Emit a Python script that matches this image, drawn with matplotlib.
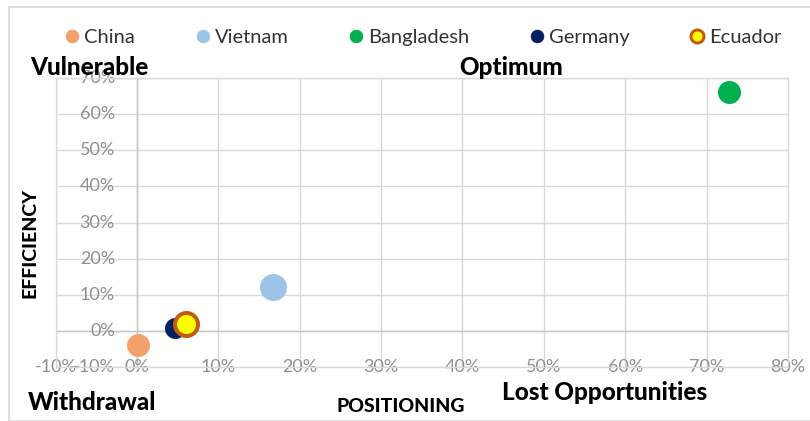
import matplotlib.pyplot as plt
from matplotlib.lines import Line2D
from matplotlib.patches import Rectangle

# data
countries = ['China', 'Vietnam', 'Bangladesh', 'Germany', 'Ecuador']
positioning = [0.001, 0.167, 0.728, 0.047, 0.060]
efficiency = [-0.038, 0.121, 0.660, 0.008, 0.019]
bubble_px = [23, 27, 23, 21, 23]
face_colors = ['#F4A06C', '#9DC3E6', '#00B050', '#002060', '#FFFF00']
edge_colors = ['#F4A06C', '#9DC3E6', '#00B050', '#002060', '#C55A11']
edge_px = [0, 0, 0, 0, 4]

x_ticks = [-0.1, 0.0, 0.1, 0.2, 0.3, 0.4, 0.5, 0.6, 0.7, 0.8]
x_labels = ['-10%', '0%', '10%', '20%', '30%', '40%', '50%', '60%', '70%', '80%']
y_ticks = [-0.1, 0.0, 0.1, 0.2, 0.3, 0.4, 0.5, 0.6, 0.7]
y_labels = ['-10%', '0%', '10%', '20%', '30%', '40%', '50%', '60%', '70%']

W, H, DPI = 810, 421, 100
PT = 72 / DPI  # points per pixel

plt.rcParams['font.family'] = ['Lato', 'DejaVu Sans']

fig = plt.figure(figsize=(W / DPI, H / DPI), dpi=DPI)
fig.patches.append(Rectangle((9 / W, 0), 1, 1 - 7 / H, transform=fig.transFigure,
                             fill=False, edgecolor='#d9d9d9', linewidth=1.2))

ax = fig.add_axes([55.5 / W, 1 - 367 / H, (788 - 55.5) / W, (367 - 78) / H])
ax.set_xlim(-0.1, 0.8)
ax.set_ylim(-0.1, 0.7)
ax.set_xticks(x_ticks)
ax.set_yticks(y_ticks)
ax.tick_params(length=0, labelbottom=False, labelleft=False)
ax.grid(True, color='#d9d9d9', linewidth=1.0)
for s in ax.spines.values():
    s.set_color('#d9d9d9')
    s.set_linewidth(1.0)
ax.axhline(0, color='#c6c6c6', linewidth=1.0, zorder=1)
ax.axvline(0, color='#c6c6c6', linewidth=1.0, zorder=1)
ax.set_axisbelow(True)

# tick labels sit on the bottom line / next to the zero line, like the excel chart
for xv, lab in zip(x_ticks, x_labels):
    ax.text(xv, -0.1, lab, ha='center', va='center', fontsize=13, color='#8f8f8f',
            clip_on=False, zorder=2)
for yv, lab in zip(y_ticks, y_labels):
    ax.text(-0.027, yv, lab, ha='right', va='center', fontsize=13, color='#8f8f8f',
            clip_on=False, zorder=2)

for i in range(len(countries)):
    d = bubble_px[i] * PT
    ax.scatter(positioning[i], efficiency[i], s=d ** 2, color=face_colors[i],
               edgecolors=edge_colors[i], linewidths=edge_px[i] * PT, zorder=3,
               clip_on=False)

handles = []
for i in range(len(countries)):
    handles.append(Line2D([], [], linestyle='none', marker='o', markersize=13 * PT,
                          markerfacecolor=face_colors[i], markeredgecolor=edge_colors[i],
                          markeredgewidth=max(edge_px[i] - 1, 0.5) * PT))
fig.legend(handles, countries, ncol=5, loc='center', bbox_to_anchor=(424 / W, 1 - 37 / H),
           frameon=False, fontsize=14.5, labelcolor='#333333', handlelength=0.6,
           handletextpad=0.3, columnspacing=3.05)


def ftext(x, y, s, size, **kw):
    fig.text(x / W, 1 - y / H, s, fontsize=size, fontweight='black', color='black',
             va='baseline', zorder=5, **kw)


ftext(30, 75, 'Vulnerable', 17.5)
ftext(459, 75, 'Optimum', 17.5)
ftext(28, 410, 'Withdrawal', 17.5)
ftext(502, 400, 'Lost Opportunities', 17.5)
ftext(336, 412, 'POSITIONING', 14)
fig.text(30 / W, 1 - 243 / H, 'EFFICIENCY', fontsize=14, fontweight='black',
         rotation=90, ha='center', va='center')

fig.savefig('out.png', dpi=DPI)
